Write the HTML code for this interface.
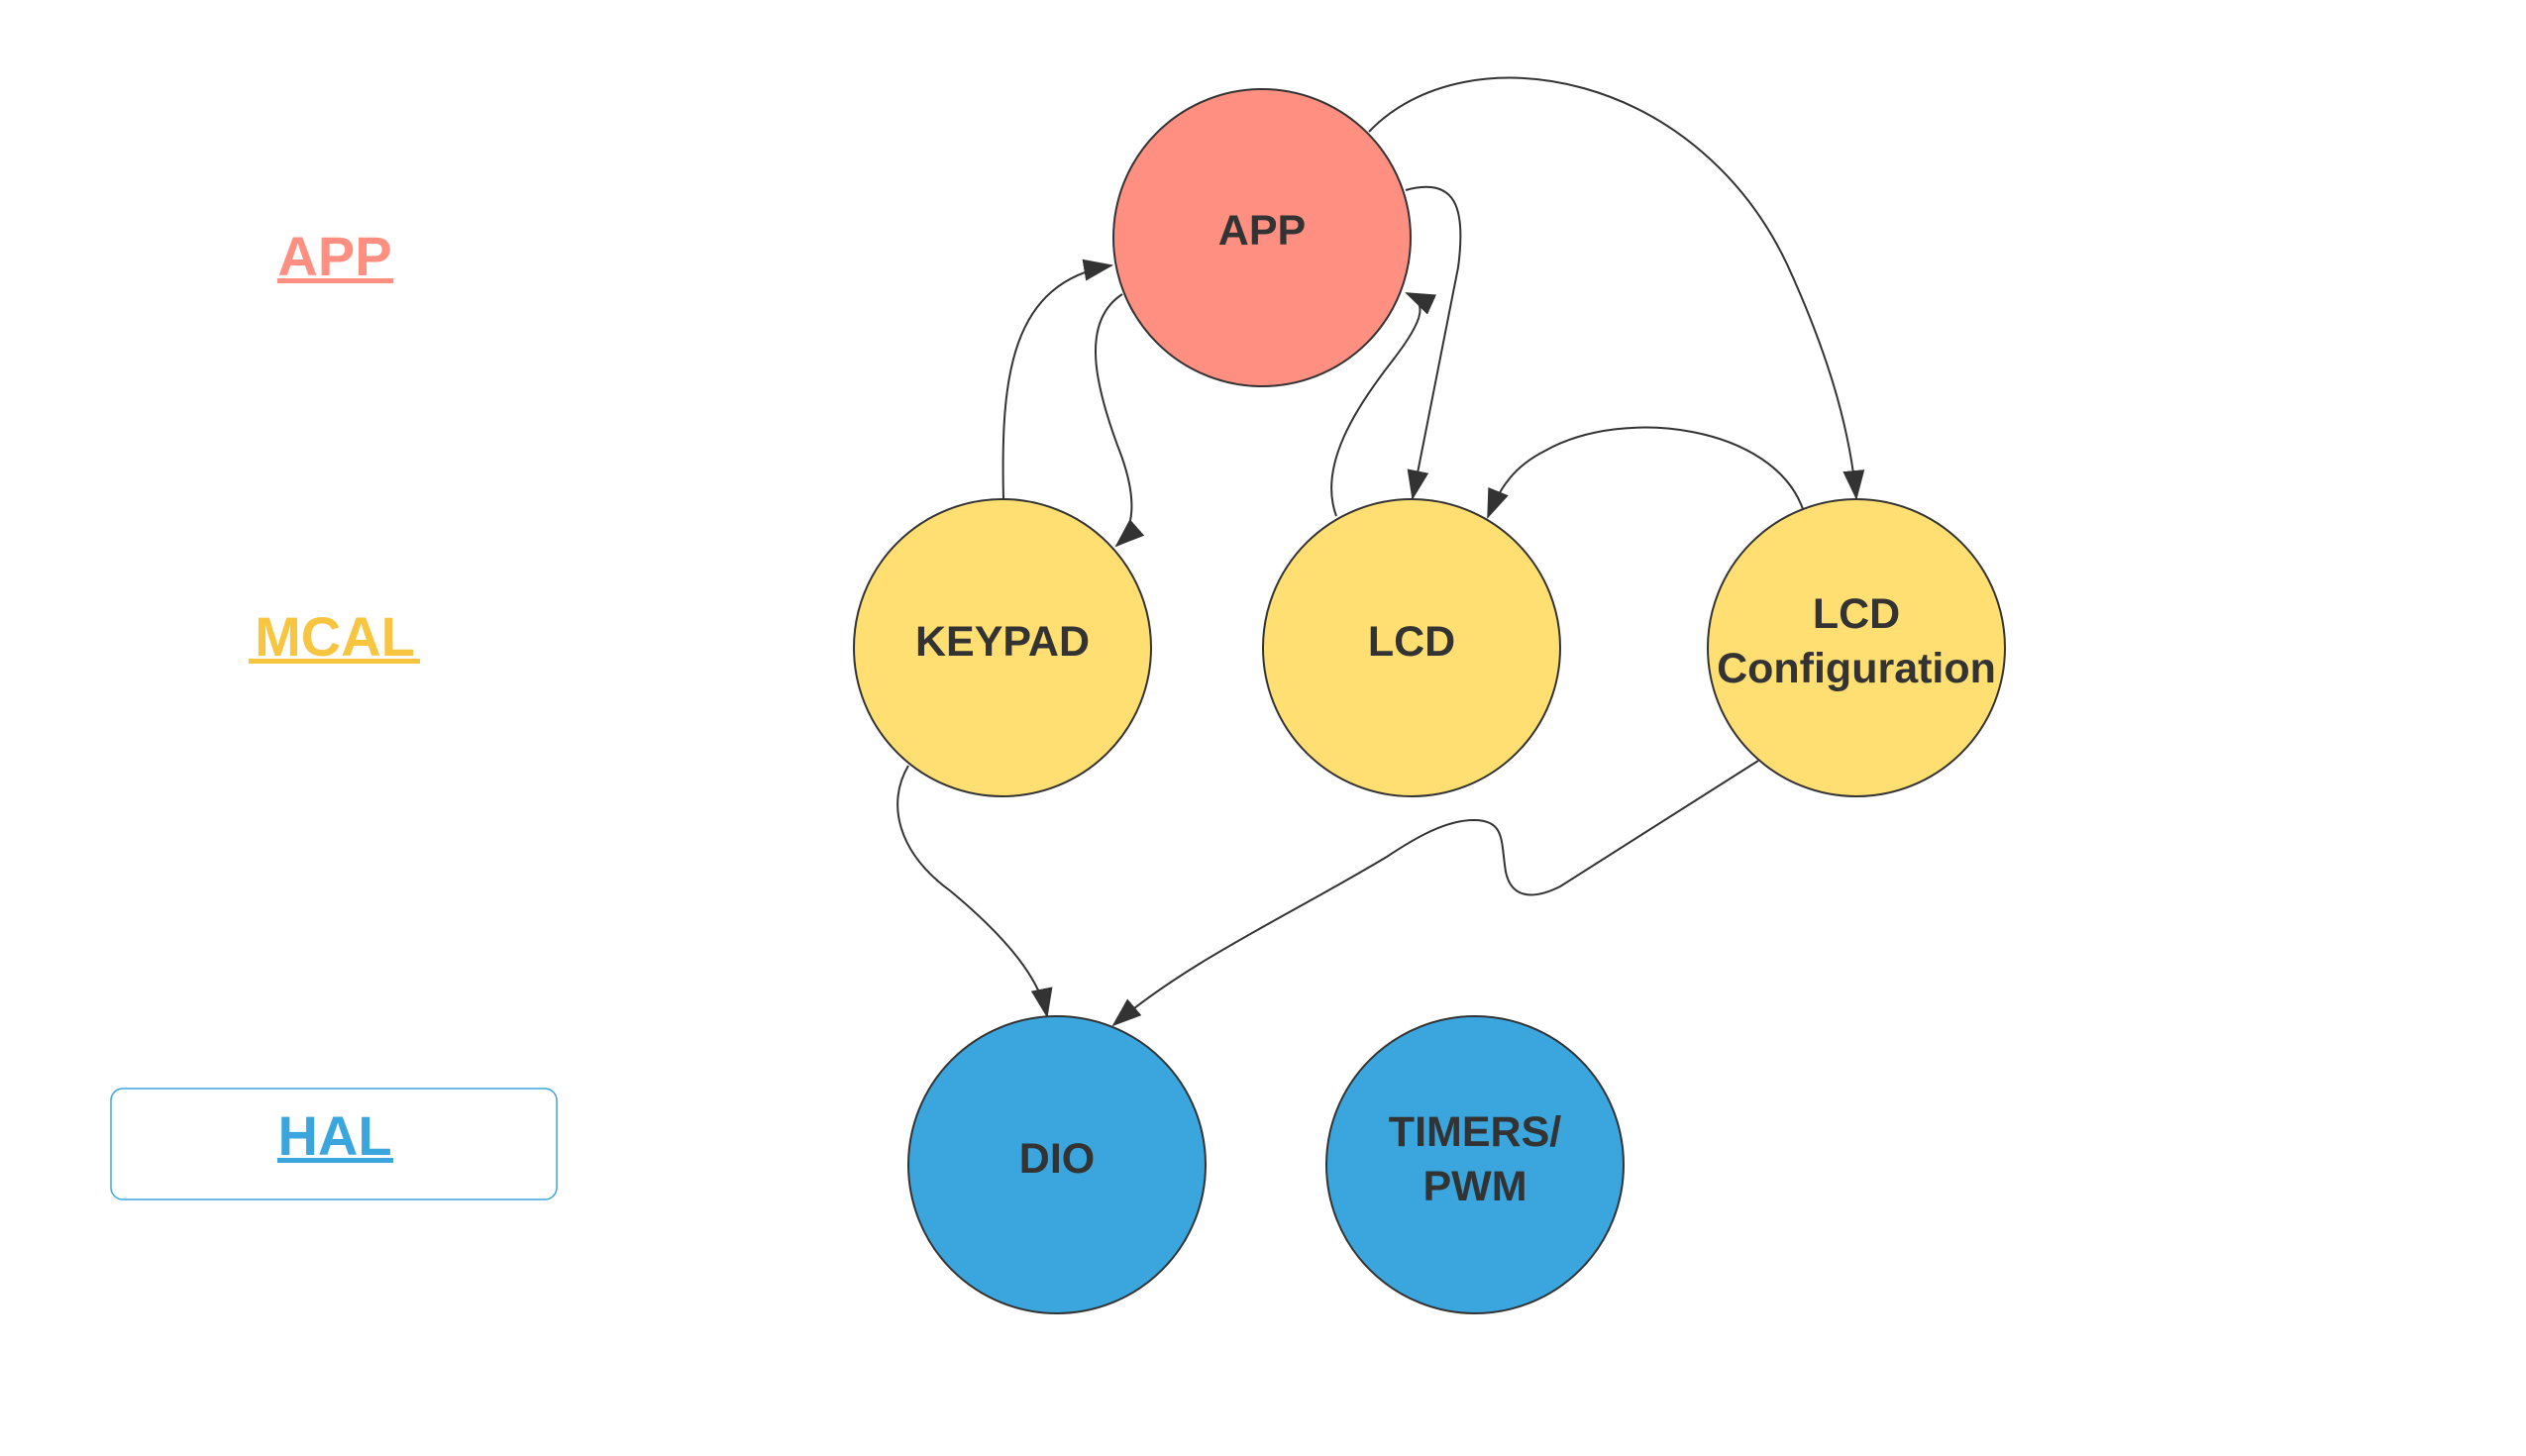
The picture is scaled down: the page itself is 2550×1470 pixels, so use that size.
<!DOCTYPE html>
<html><head><meta charset="utf-8"><style>
html,body{margin:0;padding:0;background:#fff;}
svg{display:block;}
</style></head><body>
<svg width="2550" height="1470" viewBox="0 0 2550 1470" xmlns="http://www.w3.org/2000/svg" font-family="Liberation Sans, Arial, sans-serif">
<defs>
<marker id="b" markerWidth="30" markerHeight="22" refX="28" refY="11" orient="auto" markerUnits="userSpaceOnUse">
<path d="M0,0 L30,11 L0,22 Z" fill="#333"/>
</marker>
</defs>
<rect width="2550" height="1470" fill="#fff"/>

<text x="338" y="278" text-anchor="middle" font-size="56" font-weight="bold" fill="#FF8F80">APP</text>
<rect x="280" y="281" width="117" height="5" fill="#FF8F80"/>
<text x="338" y="662" text-anchor="middle" font-size="56" font-weight="bold" fill="#F7C53F">MCAL</text>
<rect x="251" y="665" width="173" height="5" fill="#F7C53F"/>
<rect x="112" y="1099" width="450" height="112" rx="12" fill="#fff" stroke="#3AA6DD" stroke-width="1.5"/>
<text x="338" y="1166" text-anchor="middle" font-size="56" font-weight="bold" fill="#3AA6DD">HAL</text>
<rect x="280" y="1169" width="117" height="5" fill="#3AA6DD"/>

<g fill="none" stroke="#333" stroke-width="2">
<path d="M1013,504 C1010,380 1020,285 1122,268" marker-end="url(#b)"/>
<path d="M1133,297 C1090,325 1105,390 1132,460 C1148,505 1145,535 1127,551" marker-end="url(#b)"/>
<path d="M1349,521 C1330,470 1370,410 1405,365 C1440,320 1440,305 1420,296" marker-end="url(#b)"/>
<path d="M1419,192 C1470,178 1480,210 1472,270 L1426,503" marker-end="url(#b)"/>
<path d="M1382,133 C1480,30 1720,70 1810,280 C1850,370 1868,440 1874,503" marker-end="url(#b)"/>
<path d="M1820,514 C1790,430 1640,410 1560,455 C1530,470 1515,490 1502,522" marker-end="url(#b)"/>
<path d="M917,773 C895,810 905,860 960,900 C1020,950 1050,990 1057,1026" marker-end="url(#b)"/>
<path d="M1775,768 L1575,895 C1545,910 1525,905 1520,880 C1515,850 1520,828 1488,828 C1460,828 1430,845 1400,865 C1300,925 1200,970 1124,1035" marker-end="url(#b)"/>
</g>

<g stroke="#333" stroke-width="2">
<circle cx="1274" cy="240" r="150" fill="#FF8F80"/>
<circle cx="1012" cy="654" r="150" fill="#FFDF71"/>
<circle cx="1425" cy="654" r="150" fill="#FFDF71"/>
<circle cx="1874" cy="654" r="150" fill="#FFDF71"/>
<circle cx="1067" cy="1176" r="150" fill="#3AA6DD"/>
<circle cx="1489" cy="1176" r="150" fill="#3AA6DD"/>
</g>
<g font-size="43" font-weight="bold" fill="#333" text-anchor="middle">
<text x="1274" y="247">APP</text>
<text x="1012" y="662">KEYPAD</text>
<text x="1425" y="662">LCD</text>
<text x="1874" y="634">LCD</text>
<text x="1874" y="689">Configuration</text>
<text x="1067" y="1184">DIO</text>
<text x="1489" y="1157">TIMERS/</text>
<text x="1489" y="1212">PWM</text>
</g>
</svg>
</body></html>
